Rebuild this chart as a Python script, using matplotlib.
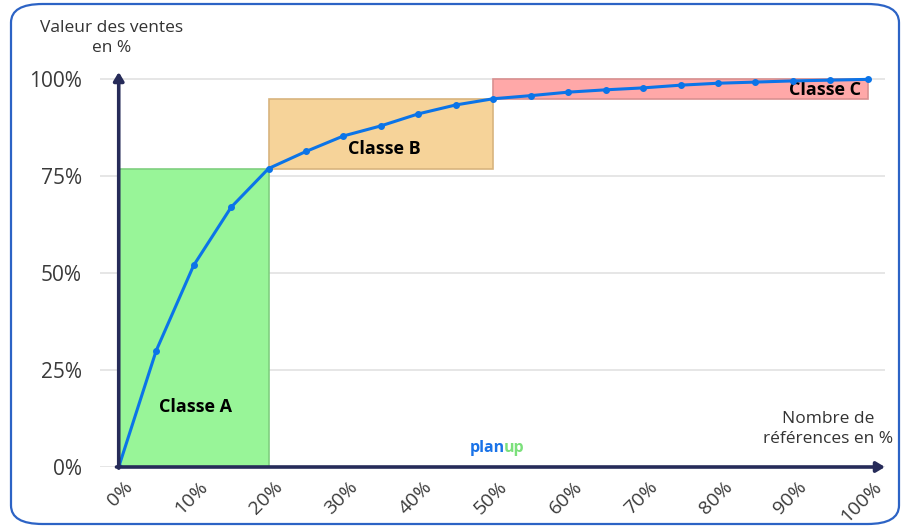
# Courbe ABC (Pareto) : part cumulée des ventes selon la part des références
import matplotlib.pyplot as plt
from matplotlib.patches import Rectangle, FancyBboxPatch
from matplotlib.transforms import ScaledTranslation

plt.rcParams['font.family'] = ['Open Sans', 'DejaVu Sans']

# Données
refs_pct = [0, 5, 10, 15, 20, 25, 30, 35, 40, 45, 50,
            55, 60, 65, 70, 75, 80, 85, 90, 95, 100]
ventes_pct = [0, 30, 52, 67, 77, 81.4, 85.4, 88, 91.1, 93.4, 95,
              95.8, 96.7, 97.3, 97.8, 98.5, 99, 99.3, 99.6, 99.8, 100]

classes = ["Classe A", "Classe B", "Classe C"]
classe_x = [(0, 20), (20, 50), (50, 100)]
classe_y = [(0, 77), (77, 95), (95, 100)]
classe_fill = ["#98F598", "#F6D399", "#FFA8A8"]
classe_edge = ["#7FCF7F", "#D8B47E", "#D99090"]
classe_label_pos = [(10.3, 15.5), (35.5, 82), (94.3, 97.2)]

y_ticks = [0, 25, 50, 75, 100]
x_ticks = [0, 10, 20, 30, 40, 50, 60, 70, 80, 90, 100]

navy = "#262B59"
line_blue = "#0B74E8"

fig = plt.figure(figsize=(9.04, 5.30), dpi=100)
ax = fig.add_axes([100 / 904, 63 / 530, 785 / 904, 395 / 530])
ax.set_xlim(-2.5, 102.3)
ax.set_ylim(0, 101.9)

# cadre arrondi autour du graphique
fig.patches.append(FancyBboxPatch((11 / 904, 6 / 530), 888 / 904, 520 / 530,
                                  boxstyle="round,pad=0,rounding_size=0.035",
                                  transform=fig.transFigure, fill=False,
                                  edgecolor="#2C63C5", linewidth=1.6))

for y in y_ticks:
    ax.axhline(y, color="#E2E2E2", linewidth=1.2, zorder=0)

for name, (x0, x1), (y0, y1), fc, ec, (lx, ly) in zip(
        classes, classe_x, classe_y, classe_fill, classe_edge, classe_label_pos):
    ax.add_patch(Rectangle((x0, y0), x1 - x0, y1 - y0, facecolor=fc,
                           edgecolor=ec, linewidth=1.2, zorder=1))
    ax.text(lx, ly, name, ha="center", va="center", fontsize=13,
            fontweight="bold", color="black", zorder=2)

ax.plot(refs_pct, ventes_pct, color=line_blue, linewidth=2.2,
        marker="o", markersize=4, zorder=3)

# axes fléchés
ax.annotate("", xy=(0, 101.9), xytext=(0, -0.3),
            arrowprops=dict(arrowstyle="-|>,head_length=0.5,head_width=0.3",
                            color=navy, lw=2.6, shrinkA=0, shrinkB=0), zorder=5)
ax.annotate("", xy=(102.3, 0), xytext=(-0.3, 0),
            arrowprops=dict(arrowstyle="-|>,head_length=0.5,head_width=0.3",
                            color=navy, lw=2.6, shrinkA=0, shrinkB=0), zorder=5)

for s in ax.spines.values():
    s.set_visible(False)

ax.set_yticks(y_ticks)
ax.set_yticklabels([f"{v}%" for v in y_ticks])
ax.set_xticks(x_ticks)
ax.set_xticklabels([f"{v}%" for v in x_ticks], rotation=45, ha="right",
                   rotation_mode="anchor")
ax.tick_params(axis="y", length=0, pad=13, labelsize=15, labelcolor="#3a3a3a")
ax.tick_params(axis="x", length=0, pad=8, labelsize=14, labelcolor="#3a3a3a")
shift = ScaledTranslation(5 / 100, 0, fig.dpi_scale_trans)
for lbl in ax.get_xticklabels():
    lbl.set_transform(lbl.get_transform() + shift)

fig.text(112 / 904, 1 - 38 / 530, "Valeur des ventes\nen %", ha="center",
         va="center", fontsize=12.5, color="#333333", linespacing=1.35)
fig.text(828 / 904, 1 - 429 / 530, "Nombre de\nréférences en %", ha="center",
         va="center", fontsize=12.5, color="#333333", linespacing=1.35)

# logo
t = ax.text(51.5, 4.8, "plan", ha="right", va="center", fontsize=11.5,
            fontweight="bold", color="#1A73E8")
ax.annotate("up", xy=(1, 0.5), xycoords=t, xytext=(-0.5, 0),
            textcoords="offset points", va="center", ha="left",
            fontsize=11.5, fontweight="bold", color="#7BE07B")

fig.savefig("out.png", dpi=100)
